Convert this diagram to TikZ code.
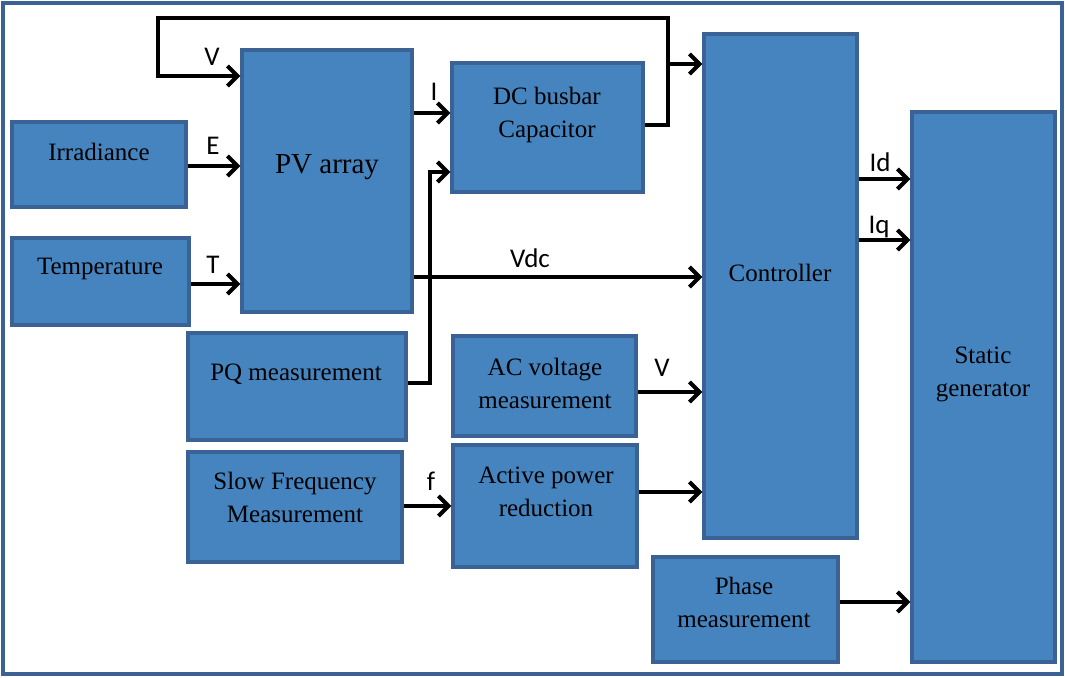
\documentclass[tikz,border=0pt]{standalone}
\usepackage{fontspec}
\setmainfont{Liberation Serif}
\newfontfamily\labfont{Carlito}
\usetikzlibrary{arrows.meta,calc}
\definecolor{boxfill}{RGB}{69,132,190}
\definecolor{boxline}{RGB}{58,98,148}
\begin{document}
\begin{tikzpicture}[x=1pt,y=-1pt,
  blk/.style={draw=boxline,fill=boxfill,line width=3.5pt,rectangle,inner sep=0pt},
  txt/.style={font=\fontsize{25}{33}\selectfont,align=center,text=black,inner sep=0pt},
  lbl/.style={font=\labfont\fontsize{27}{30}\selectfont,inner sep=0pt},
  arr/.style={line width=4.5pt,line join=miter,-{Straight Barb[length=10pt,width=20pt,line width=4pt]}},
  wire/.style={line width=4.5pt}]
\useasboundingbox (0,0) rectangle (1065,677);
\draw[boxline,line width=4pt] (3,3) rectangle (1062,674);

% boxes
\node[blk,minimum width=170pt,minimum height=262pt] (pv)   at (327,181) {};
\node[blk,minimum width=174pt,minimum height=85pt]  (irr)  at (99,164.5) {};
\node[blk,minimum width=177pt,minimum height=87pt]  (temp) at (100.5,281.5) {};
\node[blk,minimum width=191pt,minimum height=129pt] (dc)   at (547.5,127.5) {};
\node[blk,minimum width=218pt,minimum height=107pt] (pq)   at (297,386.5) {};
\node[blk,minimum width=183pt,minimum height=100pt] (ac)   at (544.5,386) {};
\node[blk,minimum width=214pt,minimum height=110pt] (sf)   at (295,507) {};
\node[blk,minimum width=184pt,minimum height=122pt] (apr)  at (545,506) {};
\node[blk,minimum width=153pt,minimum height=504pt] (ctl)  at (780.5,286) {};
\node[blk,minimum width=143pt,minimum height=550pt] (sg)   at (983.5,387) {};
\node[blk,minimum width=185pt,minimum height=105pt] (ph)   at (745.5,609.5) {};

% texts
\node[txt,font=\fontsize{29}{34}\selectfont] (tpv) at (327,167) {PV array};
\node[txt] (tirr)  at (99,152) {Irradiance};
\node[txt] (ttemp) at (100,269) {Temperature};
\node[txt] (tdc)   at (547,115) {DC busbar\\Capacitor};
\node[txt] (tpq)   at (296,374) {PQ measurement};
\node[txt] (tac)   at (545,383) {AC voltage\\measurement};
\node[txt] (tsf)   at (295,497) {Slow Frequency\\Measurement};
\node[txt] (tapr)  at (546,492) {Active power\\reduction};
\node[txt] (tctl)  at (780,273) {Controller};
\node[txt] (tsg)   at (983,374) {Static\\generator};
\node[txt] (tph)   at (744,602) {Phase\\measurement};

% connectors
\coordinate (loopR) at (668,18);
\coordinate (loopL) at (158,18);
\coordinate (br)    at (668,64);
\coordinate (pqup)  at (430,172);
\draw[arr] (dc.east |- 0,125) -| (loopR) -- (loopL) |- (pv.west |- 0,76);
\draw[arr] (br) -- (ctl.west |- br);
\draw[arr] (pv.east |- 0,113) -- (dc.west |- 0,113);
\draw[arr] (irr.east |- 0,166) -- (pv.west |- 0,166);
\draw[arr] (temp.east |- 0,284) -- (pv.west |- 0,284);
\draw[arr] (pv.east |- 0,277) -- (ctl.west |- 0,277);
\draw[arr] (pq.east |- 0,383) -| (pqup) -- (dc.west |- pqup);
\draw[arr] (ac.east |- 0,392) -- (ctl.west |- 0,392);
\draw[arr] (sf.east |- 0,506) -- (apr.west |- 0,506);
\draw[arr] (apr.east |- 0,492) -- (ctl.west |- 0,492);
\draw[arr] (ctl.east |- 0,179) -- (sg.west |- 0,179);
\draw[arr] (ctl.east |- 0,240) -- (sg.west |- 0,240);
\draw[arr] (ph.east |- 0,602) -- (sg.west |- 0,602);

% labels
\node[lbl] (lV1) at (212,57) {V};
\node[lbl] (lI)  at (434,92) {I};
\node[lbl] (lE)  at (213,146) {E};
\node[lbl] (lT)  at (213,265) {T};
\node[lbl] (lVdc) at (530,258) {Vdc};
\node[lbl] (lV2) at (662,368) {V};
\node[lbl] (lf)  at (431,481) {f};
\node[lbl] (lId) at (880,162) {Id};
\node[lbl] (lIq) at (879,227) {Iq};
\end{tikzpicture}
\end{document}
